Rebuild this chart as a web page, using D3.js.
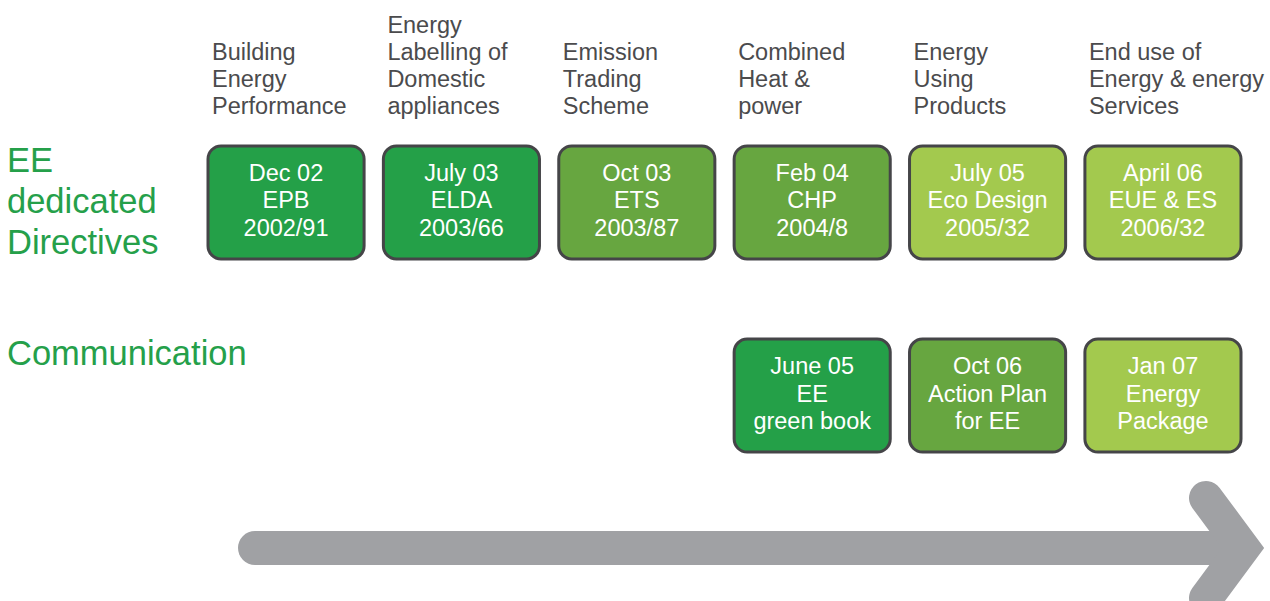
<!DOCTYPE html>
<html>
<head>
<meta charset="utf-8">
<script src="https://cdn.jsdelivr.net/npm/d3@7"></script>
<style>
  html, body { margin: 0; padding: 0; background: #fff; }
  svg { display: block; font-family: "Liberation Sans", Arial, Helvetica, sans-serif; }
</style>
</head>
<body>
<div id="chart"></div>
<script>
// Column headers (one per directive column)
const headers = [
  ["Building", "Energy", "Performance"],
  ["Energy", "Labelling of", "Domestic", "appliances"],
  ["Emission", "Trading", "Scheme"],
  ["Combined", "Heat &", "power"],
  ["Energy", "Using", "Products"],
  ["End use of", "Energy & energy", "Services"]
];

// Row labels
const rows = ["directives", "communication"];
const rowLabels = [["EE", "dedicated", "Directives"], ["Communication"]];

// Boxes: row, column, shade (0 dark, 1 mid, 2 light), lines of text
const boxRow = ["directives", "directives", "directives", "directives", "directives", "directives",
                "communication", "communication", "communication"];
const boxCol = [0, 1, 2, 3, 4, 5, 3, 4, 5];
const boxShade = [0, 0, 1, 1, 2, 2, 0, 1, 2];
const boxText = [
  ["Dec 02", "EPB", "2002/91"],
  ["July 03", "ELDA", "2003/66"],
  ["Oct 03", "ETS", "2003/87"],
  ["Feb 04", "CHP", "2004/8"],
  ["July 05", "Eco Design", "2005/32"],
  ["April 06", "EUE & ES", "2006/32"],
  ["June 05", "EE", "green book"],
  ["Oct 06", "Action Plan", "for EE"],
  ["Jan 07", "Energy", "Package"]
];

const width = 1270, height = 601;

const svg = d3.select('#chart')
  .append('svg')
  .attr('width', width)
  .attr('height', height);

// Scales
const x = d3.scaleBand()
  .domain(d3.range(headers.length))
  .range([208, 1241])
  .paddingInner(0.11)
  .paddingOuter(0);

const y = d3.scaleBand()
  .domain(rows)
  .range([146, 452])
  .paddingInner(0.415)
  .paddingOuter(0);

const shade = d3.scaleOrdinal()
  .domain([0, 1, 2])
  .range(['#24a048', '#67a640', '#a3c94e']);

// Timeline arrow
const arrowY = 548;
const arrow = svg.append('g').attr('class', 'arrow');
arrow.append('line')
  .attr('x1', 255).attr('x2', 1235)
  .attr('y1', arrowY).attr('y2', arrowY)
  .attr('stroke', '#a0a1a4')
  .attr('stroke-width', 34)
  .attr('stroke-linecap', 'round');
arrow.append('path')
  .attr('d', `M1206,${arrowY - 50} L1243,${arrowY} L1206,${arrowY + 50}`)
  .attr('fill', 'none')
  .attr('stroke', '#a0a1a4')
  .attr('stroke-width', 34)
  .attr('stroke-linecap', 'round')
  .attr('stroke-linejoin', 'miter')
  .attr('stroke-miterlimit', 10);

// Column headers, bottom-aligned above the first row
const headerLine = 27;
const headerBottom = y(rows[0]) - 40;
const headerG = svg.append('g').attr('class', 'headers')
  .selectAll('text')
  .data(headers)
  .enter()
  .append('text')
  .attr('x', (d, i) => x(i) + 4)
  .attr('font-size', '23.5px')
  .attr('fill', '#4b4b4d');

headerG.selectAll('tspan')
  .data(d => d.map((t, j) => ({ t, k: d.length - 1 - j })))
  .enter()
  .append('tspan')
  .attr('x', function () { return d3.select(this.parentNode).attr('x'); })
  .attr('y', d => headerBottom - d.k * headerLine)
  .attr('dominant-baseline', 'central')
  .text(d => d.t);

// Row labels
const rowG = svg.append('g').attr('class', 'row-labels')
  .selectAll('text')
  .data(rows)
  .enter()
  .append('text')
  .attr('font-size', '34.5px')
  .attr('fill', '#25a04a');

rowG.selectAll('tspan')
  .data((r, i) => rowLabels[i].map((t, j) => ({ t, j, r })))
  .enter()
  .append('tspan')
  .attr('x', 7)
  .attr('y', d => y(d.r) + 14 + d.j * 41)
  .attr('dominant-baseline', 'central')
  .text(d => d.t);

// Boxes
const boxes = svg.append('g').attr('class', 'boxes')
  .selectAll('g')
  .data(boxText.map((lines, i) => ({ lines, row: boxRow[i], col: boxCol[i], shade: boxShade[i] })))
  .enter()
  .append('g')
  .attr('transform', d => `translate(${x(d.col)},${y(d.row)})`);

boxes.append('rect')
  .attr('width', x.bandwidth())
  .attr('height', y.bandwidth())
  .attr('rx', 13)
  .attr('ry', 13)
  .attr('fill', d => shade(d.shade))
  .attr('stroke', '#454548')
  .attr('stroke-width', 3);

boxes.append('text')
  .attr('text-anchor', 'middle')
  .attr('font-size', '23.5px')
  .attr('fill', '#ffffff')
  .selectAll('tspan')
  .data(d => d.lines.map((t, j) => ({ t, j })))
  .enter()
  .append('tspan')
  .attr('x', x.bandwidth() / 2)
  .attr('y', d => y.bandwidth() / 2 - 2 + (d.j - 1) * 27.5)
  .attr('dominant-baseline', 'central')
  .text(d => d.t);
</script>
</body>
</html>
